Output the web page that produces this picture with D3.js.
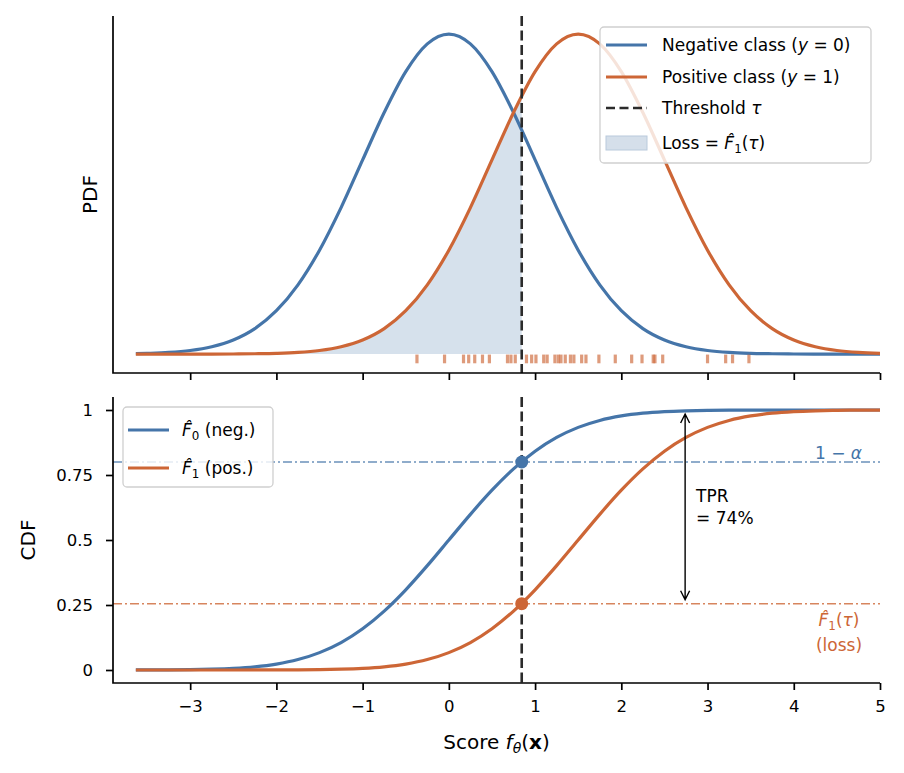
<!DOCTYPE html>
<html>
<head>
<meta charset="utf-8">
<script src="https://cdn.jsdelivr.net/npm/d3@7"></script>
<style>
  body { margin: 0; background: #fff; }
  svg { display: block; font-family: "DejaVu Sans", sans-serif; }
</style>
</head>
<body>
<svg id="chart" width="904" height="773"></svg>
<script>
// score grid and the curves
const scores = [-3.63, -3.5, -3.25, -3, -2.75, -2.5, -2.25, -2, -1.75, -1.5, -1.25, -1, -0.75, -0.5, -0.25, 0,
  0.25, 0.5, 0.75, 1, 1.25, 1.5, 1.75, 2, 2.25, 2.5, 2.75, 3, 3.25, 3.5, 3.75, 4, 4.25, 4.5, 4.75, 5];
const pdfNeg = [0.0005, 0.0009, 0.0020, 0.0044, 0.0091, 0.0175, 0.0317, 0.0540, 0.0863, 0.1295, 0.1826, 0.2420,
  0.3011, 0.3521, 0.3867, 0.3989, 0.3867, 0.3521, 0.3011, 0.2420, 0.1826, 0.1295, 0.0863, 0.0540, 0.0317, 0.0175,
  0.0091, 0.0044, 0.0020, 0.0009, 0.0004, 0.0001, 0, 0, 0, 0];
const pdfPos = [0, 0, 0, 0, 0, 0.0001, 0.0004, 0.0009, 0.0020, 0.0044, 0.0091, 0.0175, 0.0317, 0.0540, 0.0863, 0.1295,
  0.1826, 0.2420, 0.3011, 0.3521, 0.3867, 0.3989, 0.3867, 0.3521, 0.3011, 0.2420, 0.1826, 0.1295, 0.0863, 0.0540,
  0.0317, 0.0175, 0.0091, 0.0044, 0.0020, 0.0009];
const cdfNeg = [0.0001, 0.0002, 0.0006, 0.0013, 0.0030, 0.0062, 0.0122, 0.0228, 0.0401, 0.0668, 0.1056, 0.1587,
  0.2266, 0.3085, 0.4013, 0.5, 0.5987, 0.6915, 0.7734, 0.8413, 0.8944, 0.9332, 0.9599, 0.9772, 0.9878, 0.9938,
  0.9970, 0.9987, 0.9994, 0.9998, 0.9999, 1, 1, 1, 1, 1];
const cdfPos = [0, 0, 0, 0, 0, 0, 0.0001, 0.0002, 0.0006, 0.0013, 0.0030, 0.0062, 0.0122, 0.0228, 0.0401, 0.0668,
  0.1056, 0.1587, 0.2266, 0.3085, 0.4013, 0.5, 0.5987, 0.6915, 0.7734, 0.8413, 0.8944, 0.9332, 0.9599, 0.9772,
  0.9878, 0.9938, 0.9970, 0.9987, 0.9994, 0.9998];
// positive-class scores shown as a rug
const rugScores = [-0.37, -0.05, 0.17, 0.23, 0.30, 0.39, 0.47, 0.68, 0.72, 0.77, 0.90, 0.96, 1.01, 1.10, 1.14,
  1.23, 1.27, 1.30, 1.35, 1.41, 1.45, 1.54, 1.59, 1.74, 1.93, 2.12, 2.24, 2.37, 2.39, 2.48, 3.00, 3.21, 3.29, 3.48];

const tau = 0.845, negAtTau = 0.8, posAtTau = 0.255, arrowX = 2.74;
const xTicks = [-3, -2, -1, 0, 1, 2, 3, 4, 5];
const yTicks = [0, 0.25, 0.5, 0.75, 1];
const yTickLabels = ["0", "0.25", "0.5", "0.75", "1"];

const blue = "#4575a9", orange = "#cd6636", dark = "#2b2b2b";
const fs = 17;

const svg = d3.select("#chart");
const rows = scores.map((s, i) => ({ s, pn: pdfNeg[i], pp: pdfPos[i], cn: cdfNeg[i], cp: cdfPos[i] }));

const left = 113, right = 880;
const top1 = { t: 16, b: 373 }, top2 = { t: 397, b: 683 };

const x = d3.scaleLinear().domain([-3.895, 5]).range([left, right]);
const yP = d3.scaleLinear().domain([-0.0236, 0.4214]).range([top1.b, top1.t]);
const yC = d3.scaleLinear().domain([-0.05, 1.05]).range([top2.b, top2.t]);

const minus = d => d < 0 ? "\u2212" + Math.abs(d) : "" + d;

// ---------- top panel: PDFs ----------
const gP = svg.append("g");

svg.append("clipPath").attr("id", "lossClip")
  .append("rect")
  .attr("x", left).attr("y", top1.t)
  .attr("width", x(tau) - left).attr("height", top1.b - top1.t);

gP.append("path")
  .datum(rows)
  .attr("clip-path", "url(#lossClip)")
  .attr("fill", blue).attr("fill-opacity", 0.22)
  .attr("d", d3.area().curve(d3.curveMonotoneX)
    .x(d => x(d.s)).y0(yP(0)).y1(d => yP(d.pp)));

const lineP = key => d3.line().curve(d3.curveMonotoneX).x(d => x(d.s)).y(d => yP(d[key]));
gP.append("path").datum(rows).attr("fill", "none").attr("stroke", blue)
  .attr("stroke-width", 3.2).attr("d", lineP("pn"));
gP.append("path").datum(rows).attr("fill", "none").attr("stroke", orange)
  .attr("stroke-width", 3.2).attr("d", lineP("pp"));

gP.append("g").selectAll("line")
  .data(rugScores)
  .join("line")
  .attr("x1", d => x(d)).attr("x2", d => x(d))
  .attr("y1", yP(0) + 0.5).attr("y2", yP(-0.0115))
  .attr("stroke", orange).attr("stroke-width", 3.2).attr("stroke-opacity", 0.65);

gP.append("line")
  .attr("x1", x(tau)).attr("x2", x(tau)).attr("y1", top1.t).attr("y2", top1.b)
  .attr("stroke", dark).attr("stroke-width", 2.6).attr("stroke-dasharray", "10,4.5");

// axes of the top panel (x ticks only, no labels)
gP.append("g").attr("transform", `translate(0,${top1.b})`)
  .call(d3.axisBottom(x).tickValues(xTicks).tickSize(7).tickFormat(""))
  .call(g => g.select(".domain").remove())
  .call(g => g.selectAll("line").attr("stroke", "#000").attr("stroke-width", 1.7));
gP.append("path").attr("fill", "none").attr("stroke", "#000").attr("stroke-width", 1.7)
  .attr("d", `M${left},${top1.t}V${top1.b}H${right}`);

gP.append("text")
  .attr("transform", `translate(97,${(top1.t + top1.b) / 2}) rotate(-90)`)
  .attr("text-anchor", "middle").attr("font-size", 20).text("PDF");

// ---------- bottom panel: CDFs ----------
const gC = svg.append("g");

gC.append("line")
  .attr("x1", left).attr("x2", right).attr("y1", yC(negAtTau)).attr("y2", yC(negAtTau))
  .attr("stroke", blue).attr("stroke-opacity", 0.8).attr("stroke-width", 1.6)
  .attr("stroke-dasharray", "9,3,2,3");
gC.append("line")
  .attr("x1", left).attr("x2", right).attr("y1", yC(posAtTau)).attr("y2", yC(posAtTau))
  .attr("stroke", orange).attr("stroke-opacity", 0.8).attr("stroke-width", 1.6)
  .attr("stroke-dasharray", "9,3,2,3");

const lineC = key => d3.line().curve(d3.curveMonotoneX).x(d => x(d.s)).y(d => yC(d[key]));
gC.append("path").datum(rows).attr("fill", "none").attr("stroke", blue)
  .attr("stroke-width", 3.2).attr("d", lineC("cn"));
gC.append("path").datum(rows).attr("fill", "none").attr("stroke", orange)
  .attr("stroke-width", 3.2).attr("d", lineC("cp"));

gC.append("line")
  .attr("x1", x(tau)).attr("x2", x(tau)).attr("y1", top2.t).attr("y2", top2.b)
  .attr("stroke", dark).attr("stroke-width", 2.6).attr("stroke-dasharray", "10,4.5");

gC.append("circle").attr("cx", x(tau)).attr("cy", yC(negAtTau)).attr("r", 6.5).attr("fill", blue);
gC.append("circle").attr("cx", x(tau)).attr("cy", yC(posAtTau)).attr("r", 6.5).attr("fill", orange);

// double headed arrow for the TPR
const ax = x(arrowX), ay1 = yC(1) + 4, ay2 = yC(posAtTau) - 4;
gC.append("path").attr("fill", "none").attr("stroke", "#000").attr("stroke-width", 1.4)
  .attr("d", `M${ax},${ay1}V${ay2}M${ax - 4.5},${ay1 + 9}L${ax},${ay1}L${ax + 4.5},${ay1 + 9}` +
    `M${ax - 4.5},${ay2 - 9}L${ax},${ay2}L${ax + 4.5},${ay2 - 9}`);
gC.append("text").attr("x", ax + 11).attr("y", 502).attr("font-size", fs).text("TPR");
gC.append("text").attr("x", ax + 11).attr("y", 524).attr("font-size", fs).text("= 74%");

const alphaT = gC.append("text").attr("x", 862).attr("y", yC(negAtTau) - 3)
  .attr("text-anchor", "end").attr("font-size", fs).attr("fill", blue);
alphaT.append("tspan").text("1 \u2212 ");
alphaT.append("tspan").attr("font-style", "italic").text("\u03b1");

const lossT = gC.append("text").attr("x", 839).attr("y", 626)
  .attr("text-anchor", "middle").attr("font-size", fs).attr("fill", orange);
lossT.append("tspan").attr("font-style", "italic").text("F\u0302");
lossT.append("tspan").attr("font-size", fs * 0.7).attr("dy", 4).text("1");
lossT.append("tspan").attr("dy", -4).text("(");
lossT.append("tspan").attr("font-style", "italic").text("\u03c4");
lossT.append("tspan").text(")");
gC.append("text").attr("x", 839).attr("y", 651).attr("text-anchor", "middle")
  .attr("font-size", fs).attr("fill", orange).text("(loss)");

// axes of the bottom panel
gC.append("g").attr("transform", `translate(0,${top2.b})`)
  .call(d3.axisBottom(x).tickValues(xTicks).tickSize(7).tickPadding(10).tickFormat(minus))
  .call(g => g.select(".domain").remove())
  .call(g => g.selectAll("line").attr("stroke", "#000").attr("stroke-width", 1.7))
  .call(g => g.selectAll("text").attr("font-size", 16.5).attr("font-family", "DejaVu Sans").attr("fill", "#000"));
gC.append("g").attr("transform", `translate(${left},0)`)
  .call(d3.axisLeft(yC).tickValues(yTicks).tickSize(7).tickPadding(13).tickFormat((d, i) => yTickLabels[i]))
  .call(g => g.select(".domain").remove())
  .call(g => g.selectAll("line").attr("stroke", "#000").attr("stroke-width", 1.7))
  .call(g => g.selectAll("text").attr("font-size", 16.5).attr("font-family", "DejaVu Sans").attr("fill", "#000"));
gC.append("path").attr("fill", "none").attr("stroke", "#000").attr("stroke-width", 1.7)
  .attr("d", `M${left},${top2.t}V${top2.b}H${right}`);

gC.append("text")
  .attr("transform", `translate(35,${(top2.t + top2.b) / 2}) rotate(-90)`)
  .attr("text-anchor", "middle").attr("font-size", 20).text("CDF");

const xl = svg.append("text").attr("x", (left + right) / 2).attr("y", 749)
  .attr("text-anchor", "middle").attr("font-size", 20);
xl.append("tspan").text("Score ");
xl.append("tspan").attr("font-style", "italic").text("f");
xl.append("tspan").attr("font-style", "italic").attr("font-size", 14).attr("dy", 4).text("\u03b8");
xl.append("tspan").attr("dy", -4).text("(");
xl.append("tspan").attr("font-weight", "bold").text("x");
xl.append("tspan").text(")");

// ---------- legends ----------
function legendBox(g, x0, y0, w, h) {
  g.append("rect").attr("x", x0).attr("y", y0).attr("width", w).attr("height", h)
    .attr("rx", 4).attr("fill", "#fff").attr("fill-opacity", 0.82)
    .attr("stroke", "#cfcfcf").attr("stroke-width", 1.3);
}

const lg1 = svg.append("g");
legendBox(lg1, 600, 27, 271, 136);
const legendTop = [
  { y: 45, kind: "line", color: blue, dash: null },
  { y: 77, kind: "line", color: orange, dash: null },
  { y: 108, kind: "line", color: dark, dash: "9,4.5" },
  { y: 143, kind: "patch" }
];
legendTop.forEach(d => {
  if (d.kind === "line") {
    lg1.append("line").attr("x1", 606).attr("x2", 647).attr("y1", d.y).attr("y2", d.y)
      .attr("stroke", d.color).attr("stroke-width", d.dash ? 2.6 : 3.2).attr("stroke-dasharray", d.dash);
  } else {
    lg1.append("rect").attr("x", 606).attr("y", d.y - 7).attr("width", 41).attr("height", 14)
      .attr("fill", "#d5dfea").attr("stroke", "#b9cadc").attr("stroke-width", 1);
  }
});
const lt = (y) => lg1.append("text").attr("x", 662).attr("y", y + 6).attr("font-size", fs);
let t = lt(45);
t.append("tspan").text("Negative class (");
t.append("tspan").attr("font-style", "italic").text("y");
t.append("tspan").text(" = 0)");
t = lt(77);
t.append("tspan").text("Positive class (");
t.append("tspan").attr("font-style", "italic").text("y");
t.append("tspan").text(" = 1)");
t = lt(108);
t.append("tspan").text("Threshold ");
t.append("tspan").attr("font-style", "italic").text("\u03c4");
t = lt(143);
t.append("tspan").text("Loss  = ");
t.append("tspan").attr("font-style", "italic").text("F\u0302");
t.append("tspan").attr("font-size", fs * 0.7).attr("dy", 4).text("1");
t.append("tspan").attr("dy", -4).text("(");
t.append("tspan").attr("font-style", "italic").text("\u03c4");
t.append("tspan").text(")");

const lg2 = svg.append("g");
legendBox(lg2, 123, 407, 150, 80);
[{ y: 430, color: blue, sub: "0", name: " (neg.)" }, { y: 468, color: orange, sub: "1", name: " (pos.)" }]
  .forEach(d => {
    lg2.append("line").attr("x1", 128).attr("x2", 169).attr("y1", d.y).attr("y2", d.y)
      .attr("stroke", d.color).attr("stroke-width", 3.2);
    const tt = lg2.append("text").attr("x", 182).attr("y", d.y + 6).attr("font-size", fs);
    tt.append("tspan").attr("font-style", "italic").text("F\u0302");
    tt.append("tspan").attr("font-size", fs * 0.7).attr("dy", 4).text(d.sub);
    tt.append("tspan").attr("dy", -4).text(d.name);
  });
</script>
</body>
</html>
